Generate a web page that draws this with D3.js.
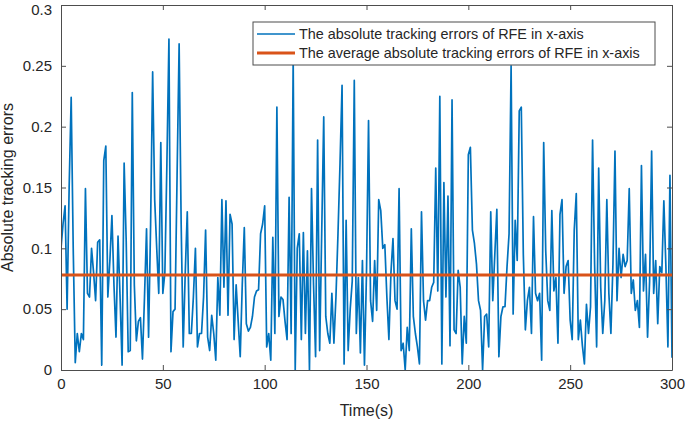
<!DOCTYPE html>
<html>
<head>
<meta charset="utf-8">
<script src="https://cdn.jsdelivr.net/npm/d3@7"></script>
<style>
  body { margin: 0; background: #fff; }
  text { font-family: "Liberation Sans", Arial, Helvetica, sans-serif; fill: #262626; }
  .tick-label { font-size: 15px; }
  .axis-title { font-size: 16px; }
  .legend-text { font-size: 14.4px; }
</style>
</head>
<body>
<div id="chart"></div>
<script>
// absolute tracking errors, one sample per second (t = 0..300)
var errors = [
  0.100, 0.120, 0.135, 0.050, 0.150, 0.224, 0.100, 0.006, 0.030, 0.015,
  0.030, 0.025, 0.149, 0.063, 0.060, 0.100, 0.080, 0.057, 0.105, 0.107,
  0.004, 0.172, 0.184, 0.060, 0.090, 0.127, 0.070, 0.027, 0.110, 0.060,
  0.004, 0.170, 0.107, 0.015, 0.016, 0.228, 0.070, 0.024, 0.040, 0.043,
  0.009, 0.060, 0.116, 0.027, 0.120, 0.245, 0.140, 0.100, 0.063, 0.187,
  0.063, 0.080, 0.170, 0.272, 0.015, 0.048, 0.050, 0.160, 0.268, 0.120,
  0.019, 0.080, 0.130, 0.030, 0.030, 0.060, 0.100, 0.019, 0.030, 0.030,
  0.060, 0.115, 0.027, 0.016, 0.045, 0.030, 0.008, 0.076, 0.045, 0.140,
  0.068, 0.139, 0.045, 0.128, 0.120, 0.025, 0.070, 0.040, 0.011, 0.070,
  0.117, 0.038, 0.032, 0.035, 0.044, 0.060, 0.065, 0.066, 0.112, 0.120,
  0.135, 0.019, 0.030, 0.008, 0.109, 0.030, 0.216, 0.044, 0.060, 0.058,
  0.040, 0.025, 0.142, 0.030, 0.255, 0.000, 0.100, 0.112, 0.025, 0.113,
  0.030, 0.098, 0.000, 0.149, 0.070, 0.011, 0.189, 0.016, 0.112, 0.208,
  0.044, 0.030, 0.022, 0.063, 0.022, 0.060, 0.112, 0.170, 0.234, 0.005,
  0.123, 0.016, 0.050, 0.073, 0.238, 0.030, 0.076, 0.014, 0.090, 0.004,
  0.080, 0.205, 0.057, 0.040, 0.090, 0.049, 0.140, 0.131, 0.100, 0.103,
  0.060, 0.025, 0.080, 0.108, 0.057, 0.050, 0.149, 0.016, 0.022, 0.000,
  0.035, 0.016, 0.116, 0.044, 0.030, 0.019, 0.005, 0.130, 0.057, 0.041,
  0.057, 0.057, 0.068, 0.072, 0.166, 0.065, 0.225, 0.005, 0.154, 0.060,
  0.143, 0.020, 0.222, 0.033, 0.030, 0.082, 0.068, 0.005, 0.044, 0.022,
  0.177, 0.183, 0.115, 0.104, 0.087, 0.057, 0.049, 0.000, 0.044, 0.046,
  0.019, 0.130, 0.057, 0.095, 0.132, 0.011, 0.044, 0.052, 0.052, 0.085,
  0.112, 0.250, 0.046, 0.123, 0.090, 0.213, 0.216, 0.095, 0.033, 0.057,
  0.068, 0.030, 0.126, 0.063, 0.057, 0.063, 0.008, 0.187, 0.098, 0.057,
  0.049, 0.131, 0.065, 0.076, 0.022, 0.128, 0.140, 0.063, 0.085, 0.090,
  0.041, 0.025, 0.115, 0.145, 0.025, 0.041, 0.020, 0.005, 0.054, 0.030,
  0.052, 0.189, 0.087, 0.019, 0.166, 0.068, 0.030, 0.057, 0.140, 0.063,
  0.030, 0.087, 0.180, 0.057, 0.100, 0.076, 0.095, 0.085, 0.090, 0.149,
  0.063, 0.074, 0.049, 0.057, 0.035, 0.168, 0.065, 0.095, 0.027, 0.073,
  0.180, 0.063, 0.090, 0.038, 0.085, 0.080, 0.139, 0.085, 0.019, 0.160,
  0.010
];
var meanError = 0.078;

var xTicks = [0, 50, 100, 150, 200, 250, 300];
var yTicks = [0, 0.05, 0.1, 0.15, 0.2, 0.25, 0.3];

var legendLabels = [
  "The absolute tracking errors of RFE in x-axis",
  "The average absolute tracking errors of RFE in x-axis"
];
var colors = ["#0072BD", "#D95319"];

var w = 685, h = 423;
var margin = {top: 5, right: 13, bottom: 53, left: 61};
var pw = w - margin.left - margin.right,
    ph = h - margin.top - margin.bottom;

var svg = d3.select("#chart")
    .append("svg")
    .attr("width", w)
    .attr("height", h);

var g = svg.append("g")
    .attr("transform", "translate(" + margin.left + "," + margin.top + ")");

// scale functions
var xScale = d3.scaleLinear()
    .domain([0, 300])
    .range([0, pw]);
var yScale = d3.scaleLinear()
    .domain([0, 0.3])
    .range([ph, 0]);

// clip region so the line stays inside the box
g.append("defs").append("clipPath")
    .attr("id", "clip")
    .append("rect")
    .attr("width", pw)
    .attr("height", ph);

var line = d3.line()
    .x(function(d, i) { return xScale(i); })
    .y(function(d) { return yScale(d); });

g.append("path")
    .datum(errors)
    .attr("clip-path", "url(#clip)")
    .attr("fill", "none")
    .attr("stroke", colors[0])
    .attr("stroke-width", 1.7)
    .attr("stroke-linejoin", "round")
    .attr("d", line);

// average line
g.append("line")
    .attr("x1", xScale(0))
    .attr("x2", xScale(300))
    .attr("y1", yScale(meanError))
    .attr("y2", yScale(meanError))
    .attr("stroke", colors[1])
    .attr("stroke-width", 3);

// axes, ticks inside like matlab, on all four sides
var axisColor = "#4d4d4d";
var tickLen = 5;

var xAxis = d3.axisBottom(xScale).tickValues(xTicks).tickSizeInner(-tickLen).tickSizeOuter(0).tickPadding(8)
    .tickFormat(d3.format("d"));
var yAxis = d3.axisLeft(yScale).tickValues(yTicks).tickSizeInner(-tickLen).tickSizeOuter(0).tickPadding(9)
    .tickFormat(function(d) { return d === 0 ? "0" : d3.format("")(d); });
var xTop = d3.axisTop(xScale).tickValues(xTicks).tickSizeInner(-tickLen).tickSizeOuter(0).tickFormat("");
var yRight = d3.axisRight(yScale).tickValues(yTicks).tickSizeInner(-tickLen).tickSizeOuter(0).tickFormat("");

var axes = [
  g.append("g").attr("transform", "translate(0," + ph + ")").call(xAxis),
  g.append("g").call(yAxis),
  g.append("g").call(xTop),
  g.append("g").attr("transform", "translate(" + pw + ",0)").call(yRight)
];
axes.forEach(function(a) {
  a.selectAll("path, line").attr("stroke", axisColor).attr("stroke-width", 1);
  a.selectAll("text")
    .attr("class", "tick-label")
    .attr("font-size", null)
    .attr("font-family", null)
    .attr("fill", "#262626");
});

// top label sits at the very edge, nudge it down so it is not clipped
axes[1].selectAll(".tick text")
    .filter(function(d) { return d === 0.3; })
    .attr("dy", "0.66em");

// axis titles
svg.append("text")
    .attr("class", "axis-title")
    .attr("x", margin.left + pw / 2)
    .attr("y", 416)
    .attr("text-anchor", "middle")
    .text("Time(s)");
svg.append("text")
    .attr("class", "axis-title")
    .attr("transform", "translate(13," + (margin.top + ph / 2) + ") rotate(-90)")
    .attr("text-anchor", "middle")
    .text("Absolute tracking errors");

// legend
var legend = svg.append("g")
    .attr("transform", "translate(253,22)");
legend.append("rect")
    .attr("width", 402)
    .attr("height", 43)
    .attr("fill", "#fff")
    .attr("stroke", axisColor)
    .attr("stroke-width", 1);
legendLabels.forEach(function(label, i) {
  var yy = 12 + i * 19;
  legend.append("line")
    .attr("x1", 4).attr("x2", 42)
    .attr("y1", yy).attr("y2", yy)
    .attr("stroke", colors[i])
    .attr("stroke-width", i === 0 ? 1.7 : 3);
  legend.append("text")
    .attr("class", "legend-text")
    .attr("x", 46)
    .attr("y", yy + 5)
    .text(label);
});
</script>
</body>
</html>
